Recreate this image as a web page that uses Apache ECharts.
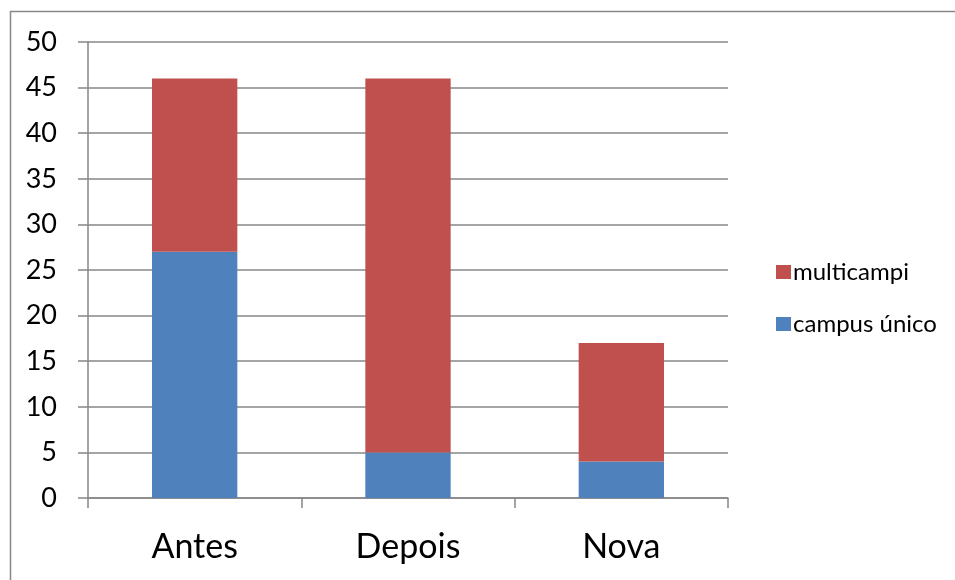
<!DOCTYPE html>
<html><head><meta charset="utf-8">
<script src="https://cdn.jsdelivr.net/npm/echarts@6/dist/echarts.min.js"></script>
<style>html,body{margin:0;padding:0;background:#fff}#c{width:955px;height:580px}</style>
</head><body><div id="c"></div>
<script>
const categories = ['Antes', 'Depois', 'Nova'];
const campusUnico = [27, 5, 4];
const multicampi = [19, 41, 13];
const yTicks = [0, 50, 5];

const chart = echarts.init(document.getElementById('c'));
const font = 'Lato, "Open Sans", sans-serif';
chart.setOption({
  animation: false,
  backgroundColor: '#fff',
  graphic: [{
    type: 'rect', left: 8, top: 9,
    shape: {width: 1000, height: 700},
    style: {fill: 'none', stroke: '#878787', lineWidth: 1.5},
    z: -1
  }],
  grid: {left: 88, right: 227, top: 42, bottom: 82},
  legend: {
    orient: 'vertical', left: 771, top: 255,
    itemWidth: 15, itemHeight: 14, itemGap: 28,
    icon: 'rect',
    data: ['multicampi', 'campus único'],
    textStyle: {fontFamily: font, fontSize: 24, lineHeight: 14, color: '#000', padding: [0, 0, 0, -3]}
  },
  xAxis: {
    type: 'category', data: categories,
    axisLine: {lineStyle: {color: '#878787', width: 1.5}},
    axisTick: {show: true, length: 10, lineStyle: {color: '#878787', width: 1.5}},
    axisLabel: {fontFamily: font, fontSize: 34, color: '#000', margin: 32}
  },
  yAxis: {
    type: 'value', min: yTicks[0], max: yTicks[1], interval: yTicks[2],
    axisLine: {show: true, lineStyle: {color: '#878787', width: 1.5}},
    axisTick: {show: true, length: 10, lineStyle: {color: '#878787', width: 1.5}},
    splitLine: {lineStyle: {color: '#878787', width: 1.5}},
    axisLabel: {fontFamily: font, fontSize: 27, color: '#000', margin: 31}
  },
  series: [
    {name: 'campus único', type: 'bar', stack: 's', data: campusUnico, barWidth: '40%', itemStyle: {color: '#4F81BD'}},
    {name: 'multicampi', type: 'bar', stack: 's', data: multicampi, barWidth: '40%', itemStyle: {color: '#C0504D'}}
  ]
});
</script></body></html>
